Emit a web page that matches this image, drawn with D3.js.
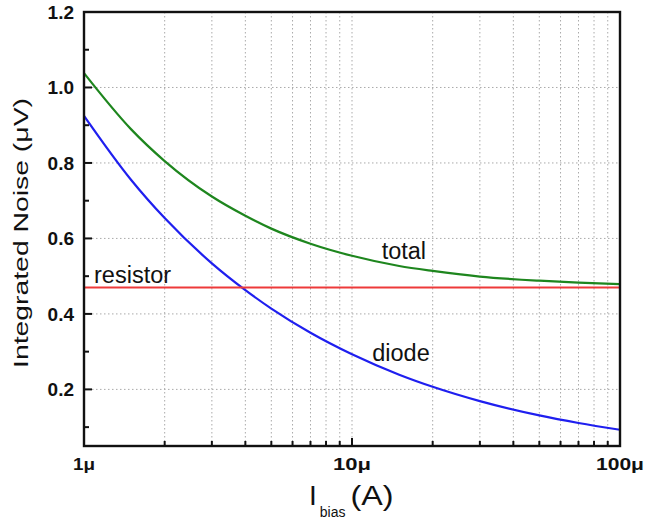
<!DOCTYPE html>
<html>
<head>
<meta charset="utf-8">
<script src="https://cdn.jsdelivr.net/npm/d3@7"></script>
<style>
  body { margin: 0; background: #fff; }
  svg text { font-family: Arial, "Liberation Sans", Helvetica, sans-serif; fill: #111; }
</style>
</head>
<body>
<svg id="chart" width="645" height="521"></svg>
<script>
// bias current (A)
const currents = [1e-6, 1.5e-6, 2e-6, 3e-6, 4e-6, 5e-6, 7e-6, 1e-5, 1.5e-5, 2e-5, 3e-5, 5e-5, 7e-5, 1e-4];
// integrated noise (µV)
const diodeNoise = [0.925, 0.755, 0.654, 0.534, 0.463, 0.414, 0.350, 0.293, 0.239, 0.207, 0.169, 0.131, 0.111, 0.093];
const totalNoise = [1.038, 0.889, 0.805, 0.711, 0.660, 0.626, 0.586, 0.554, 0.527, 0.514, 0.499, 0.488, 0.483, 0.479];
const resistorNoise = [0.47, 0.47, 0.47, 0.47, 0.47, 0.47, 0.47, 0.47, 0.47, 0.47, 0.47, 0.47, 0.47, 0.47];

const xTickValues = [1e-6, 1e-5, 1e-4];
const xTickLabels = ["1\u03bc", "10\u03bc", "100\u03bc"];
const yTickValues = [0.2, 0.4, 0.6, 0.8, 1.0, 1.2];
const yMinorValues = [0.1, 0.3, 0.5, 0.7, 0.9, 1.1];

const seriesNames = ["diode", "total", "resistor"];
const seriesColors = ["#1f1fef", "#1e861e", "#ee3a3a"];
// label anchor points in data units
const labelX = [1.19e-5, 1.29e-5, 1.09e-6];
const labelY = [0.2755, 0.546, 0.482];

const svg = d3.select('#chart');
const margin = { top: 12, left: 84, right: 25, bottom: 75 };
const width = 645 - margin.left - margin.right;
const height = 521 - margin.top - margin.bottom;

const x = d3.scaleLog().domain([1e-6, 1e-4]).range([0, width]);
const y = d3.scaleLinear().domain([0.05, 1.2]).range([height, 0]);

const g = svg.append("g").attr("transform", `translate(${margin.left},${margin.top})`);

// minor decade ticks for grid
const xGridValues = x.ticks().filter(v => v > 1e-6 && v < 1e-4);

// dotted grid
g.append("g").selectAll("line")
    .data(xGridValues)
    .enter().append("line")
    .attr("x1", d => x(d)).attr("x2", d => x(d))
    .attr("y1", 0).attr("y2", height)
    .attr("stroke", "#aaa").attr("stroke-width", 1)
    .attr("stroke-dasharray", "1.5,2.5");

g.append("g").selectAll("line")
    .data(yTickValues.filter(v => v < 1.2))
    .enter().append("line")
    .attr("x1", 0).attr("x2", width)
    .attr("y1", d => y(d)).attr("y2", d => y(d))
    .attr("stroke", "#aaa").attr("stroke-width", 1)
    .attr("stroke-dasharray", "1.5,2.5");

// curves
const lineGen = d3.line()
    .x(d => x(d[0]))
    .y(d => y(d[1]))
    .curve(d3.curveMonotoneX);

const allSeries = [diodeNoise, totalNoise, resistorNoise];
allSeries.forEach((vals, i) => {
    g.append("path")
        .datum(currents.map((c, k) => [c, vals[k]]))
        .attr("fill", "none")
        .attr("stroke", seriesColors[i])
        .attr("stroke-width", 2.2)
        .attr("d", lineGen);
});

// series labels
g.append("g").selectAll("text")
    .data(seriesNames)
    .enter().append("text")
    .attr("x", (d, i) => x(labelX[i]))
    .attr("y", (d, i) => y(labelY[i]))
    .attr("font-size", 23.5)
    .text(d => d);

// ticks (pointing inward)
g.append("g").selectAll("line")
    .data(yTickValues)
    .enter().append("line")
    .attr("x1", 0).attr("x2", 8)
    .attr("y1", d => y(d)).attr("y2", d => y(d))
    .attr("stroke", "#111").attr("stroke-width", 2);

g.append("g").selectAll("line")
    .data(yMinorValues)
    .enter().append("line")
    .attr("x1", 0).attr("x2", 5)
    .attr("y1", d => y(d)).attr("y2", d => y(d))
    .attr("stroke", "#111").attr("stroke-width", 2);

g.append("g").selectAll("line")
    .data(xGridValues)
    .enter().append("line")
    .attr("x1", d => x(d)).attr("x2", d => x(d))
    .attr("y1", height).attr("y2", d => xTickValues.includes(d) ? height - 8 : height - 5)
    .attr("stroke", "#111").attr("stroke-width", 2);

// frame
g.append("rect")
    .attr("width", width).attr("height", height)
    .attr("fill", "none").attr("stroke", "#111").attr("stroke-width", 2.4);

// tick labels
g.append("g").selectAll("text")
    .data(yTickValues)
    .enter().append("text")
    .attr("x", -10)
    .attr("y", d => y(d))
    .attr("dy", "0.36em")
    .attr("text-anchor", "end")
    .attr("font-size", 19)
    .attr("font-weight", "bold")
    .text(d => d.toFixed(1));

const xLabelWidths = [22, 38, 48];
g.append("g").selectAll("text")
    .data(xTickValues)
    .enter().append("text")
    .attr("x", (d, i) => x(d) - xLabelWidths[i] / 2)
    .attr("y", height + 24)
    .attr("font-size", 17)
    .attr("font-weight", "bold")
    .attr("textLength", (d, i) => xLabelWidths[i])
    .attr("lengthAdjust", "spacingAndGlyphs")
    .text((d, i) => xTickLabels[i]);

// axis titles
svg.append("text")
    .attr("transform", `translate(28,368)rotate(-90)`)
    .attr("font-size", 21)
    .attr("textLength", 270)
    .attr("lengthAdjust", "spacingAndGlyphs")
    .text("Integrated Noise (\u03bcV)");

const xTitle = svg.append("text")
    .attr("x", 309)
    .attr("y", 505)
    .attr("font-size", 28);
xTitle.append("tspan").text("I");
xTitle.append("tspan").attr("font-size", 14).attr("dy", 12).attr("dx", 3).text("bias");
xTitle.append("tspan").attr("dy", -12).attr("dx", 5).attr("textLength", 43).attr("lengthAdjust", "spacingAndGlyphs").text("(A)");
</script>
</body>
</html>
